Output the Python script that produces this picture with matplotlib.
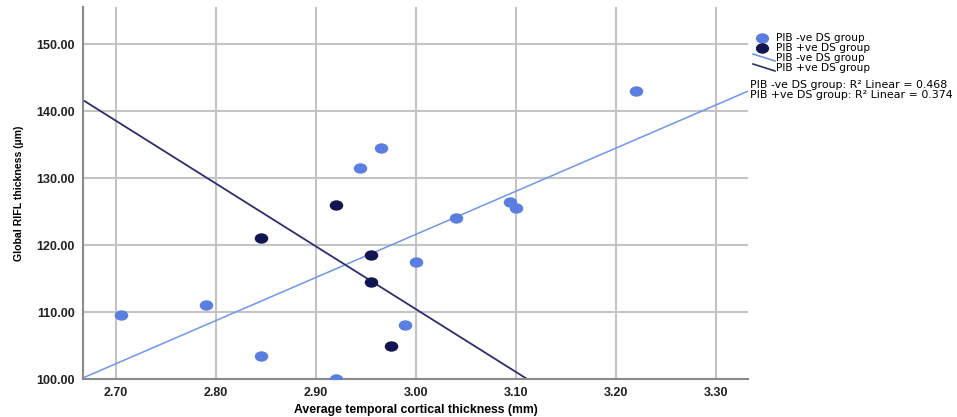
import numpy as np
import matplotlib
matplotlib.use("Agg")
import matplotlib.pyplot as plt
from matplotlib.path import Path
from matplotlib.lines import Line2D
from matplotlib.transforms import Affine2D

plt.rcParams['font.family'] = ['Liberation Sans', 'DejaVu Sans']

# PIB -ve DS group
neg_x = [2.705, 2.79, 2.845, 2.920, 2.944, 2.965, 2.989, 3.00, 3.04, 3.094, 3.10, 3.22]
neg_y = [109.5, 111.0, 103.5, 100.0, 131.5, 134.5, 108.0, 117.5, 124.0, 126.5, 125.5, 143.0]
# PIB +ve DS group
pos_x = [2.845, 2.92, 2.955, 2.955, 2.975]
pos_y = [121.0, 126.0, 118.5, 114.5, 105.0]

group_labels = ['PIB -ve DS group', 'PIB +ve DS group']
r2_labels = ["PIB -ve DS group: R² Linear = 0.468",
             "PIB +ve DS group: R² Linear = 0.374"]

light_pt = '#5b7fe0'
dark_pt = '#12154f'
light_ln = '#6f96ea'
dark_ln = '#2b2f6e'

# slightly wide ellipse marker like the original
ell = Path.unit_circle().transformed(Affine2D().scale(1.3, 1.0))

W, H = 957, 417
fig = plt.figure(figsize=(W/100, H/100), dpi=100)
ax = fig.add_axes([83/W, 1 - 379/H, (748-83)/W, (379-7)/H])

xmin, xmax = 2.667, 3.332
ax.set_xlim(xmin, xmax)
ax.set_ylim(100, 155.6)

xs = np.array([xmin, xmax])
b1, a1 = np.polyfit(neg_x, neg_y, 1)
b2, a2 = np.polyfit(pos_x, pos_y, 1)
ax.plot(xs, a1 + b1*xs, color=light_ln, lw=1.1, zorder=2)
ax.plot(xs, a2 + b2*xs, color=dark_ln, lw=1.3, zorder=2)

ax.scatter(neg_x, neg_y, s=95, marker=ell, color=light_pt, lw=0, zorder=3)
ax.scatter(pos_x, pos_y, s=95, marker=ell, color=dark_pt, lw=0, zorder=3)

xt = np.arange(2.7, 3.31, 0.1)
yt = np.arange(100, 151, 10)
ax.set_xticks(xt)
ax.set_yticks(yt)
ax.set_xticklabels([f'{v:.2f}' for v in xt])
ax.set_yticklabels([f'{v:.2f}' for v in yt])
ax.tick_params(length=0, labelsize=9, pad=6, labelcolor='#222222')
for lab in ax.get_xticklabels() + ax.get_yticklabels():
    lab.set_fontweight('bold')

ax.grid(True, color='#c4c4c4', lw=1.5)
ax.set_axisbelow(True)
for s in ['top', 'right']:
    ax.spines[s].set_visible(False)
for s in ['left', 'bottom']:
    ax.spines[s].set_color('#8a8a8a')
    ax.spines[s].set_linewidth(1.5)

ax.set_xlabel('Average temporal cortical thickness (mm)', fontsize=8.8,
              fontweight='bold', labelpad=3)
ax.set_ylabel('Global RIFL thickness (µm)', fontsize=7.6, fontweight='bold',
              labelpad=9)

# legend drawn by hand in figure pixels
def fx(px):
    return px / W

def fy(py):
    return 1 - py / H

for i, c in enumerate([light_pt, dark_pt]):
    fig.add_artist(Line2D([fx(762)], [fy(38 + 10*i)], ls='', marker=ell, ms=8.5,
                          color=c, transform=fig.transFigure))
for i, c in enumerate([light_ln, dark_ln]):
    fig.add_artist(Line2D([fx(753), fx(775)], [fy(54 + 10*i), fy(61 + 10*i)],
                          color=c, lw=1.2, transform=fig.transFigure))
for i, t in enumerate(group_labels + group_labels):
    fig.text(fx(776), fy(38 + 10*i), t, fontsize=7.6, va='center', ha='left',
             family='DejaVu Sans')
for i, t in enumerate(r2_labels):
    fig.text(fx(750), fy(85 + 10.5*i), t, fontsize=7.9, va='center', ha='left',
             family='DejaVu Sans')

fig.savefig('out.png', dpi=100)
